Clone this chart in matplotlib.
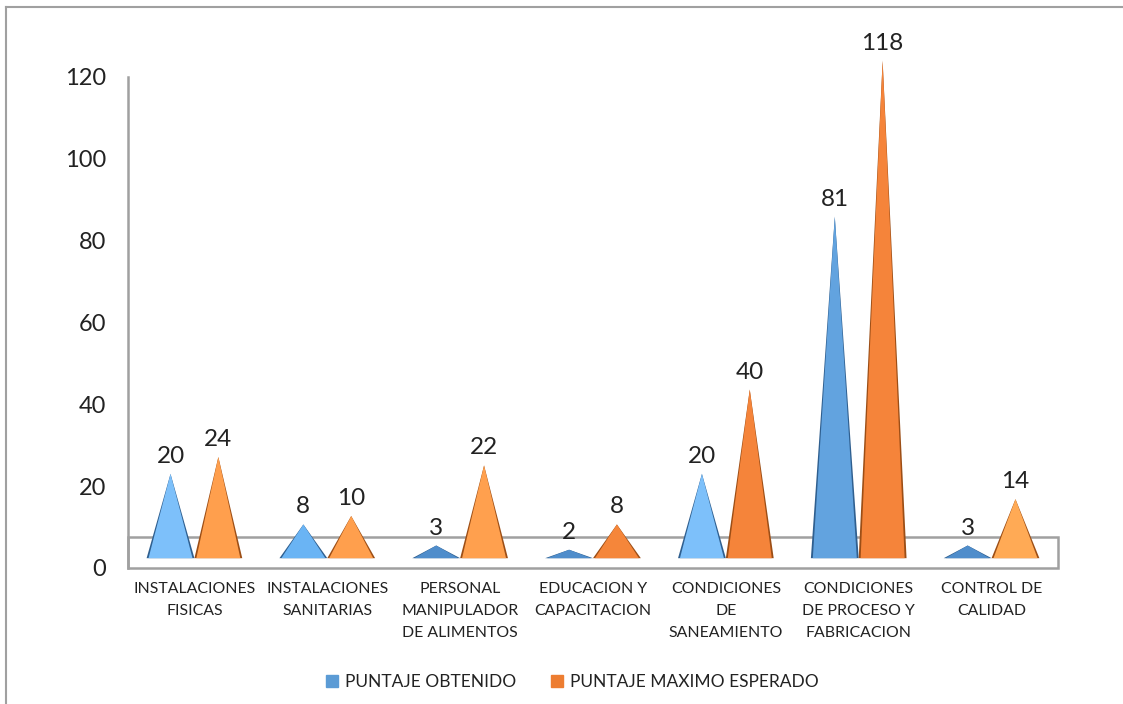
import numpy as np
import matplotlib
matplotlib.use("Agg")
import matplotlib.pyplot as plt
from matplotlib.patches import Polygon, Rectangle
from matplotlib.lines import Line2D

plt.rcParams['font.family'] = ['Lato', 'DejaVu Sans']

# datos
categorias = ["INSTALACIONES\nFISICAS", "INSTALACIONES\nSANITARIAS",
              "PERSONAL\nMANIPULADOR\nDE ALIMENTOS", "EDUCACION Y\nCAPACITACION",
              "CONDICIONES\nDE\nSANEAMIENTO", "CONDICIONES\nDE PROCESO Y\nFABRICACION",
              "CONTROL DE\nCALIDAD"]
obtenido = [20, 8, 3, 2, 20, 81, 3]
maximo = [24, 10, 22, 8, 40, 118, 14]
series = ["PUNTAJE OBTENIDO", "PUNTAJE MAXIMO ESPERADO"]
yticks = [0, 20, 40, 60, 80, 100, 120]

# colores (sombreado tipo 3D de Excel)
azul = '#5B9BD5'
naranja = '#ED7D31'
caras_azul = ['#7DC0FA', '#6AB4F4', '#4F8DCB', '#4F8DCB', '#7DC0FA', '#62A3DF', '#4F8DCB']
caras_naranja = ['#FF9F4D', '#FF9F4D', '#FFA04E', '#F5863A', '#F5843A', '#F5843A', '#FFAA55']
sombra_azul = '#2F5F8F'
sombra_naranja = '#9C4E16'

fig = plt.figure(figsize=(11.23, 7.04), dpi=100)
ax = fig.add_axes([128 / 1123, 136 / 704, 930 / 1123, 532 / 704])
ax.set_xlim(-0.5, len(categorias) - 0.5)
ax.set_ylim(0, 130)

# piso
base = 2.4
ax.add_patch(Rectangle((-0.5, 0), len(categorias), 7.6, facecolor='white',
                       edgecolor='#A0A0A0', lw=1.8, zorder=1, clip_on=False))

ancho = 0.36
esc = 1.03


def piramide(xc, v, cara, sombra):
    top = base + v * esc
    sh = Polygon([(xc - ancho / 2, base), (xc, top), (xc + ancho / 2, base)],
                 closed=True, facecolor=sombra, edgecolor='none', zorder=2)
    ax.add_patch(sh)
    d = ancho * 0.04
    fr = Polygon([(xc - ancho / 2 + d, base), (xc, top), (xc + ancho / 2 - d, base)],
                 closed=True, facecolor=cara, edgecolor='none', zorder=3)
    ax.add_patch(fr)
    ax.annotate(str(v), (xc, top), xytext=(0, 7), textcoords='offset pixels',
                ha='center', va='bottom', fontsize=17.5, color='#222222', zorder=5)


x = np.arange(len(categorias))
for i in range(len(categorias)):
    piramide(x[i] - ancho / 2, obtenido[i], caras_azul[i], sombra_azul)
    piramide(x[i] + ancho / 2, maximo[i], caras_naranja[i], sombra_naranja)

for s in ['top', 'right', 'bottom']:
    ax.spines[s].set_visible(False)
ax.spines['left'].set_bounds(0, 120)
ax.spines['left'].set_color('#A0A0A0')
ax.spines['left'].set_linewidth(1.8)

ax.set_yticks(yticks)
ax.tick_params(axis='y', length=0, pad=16, labelsize=17, labelcolor='#222222')
ax.set_xticks(x)
ax.set_xticklabels(categorias, fontsize=11.4, color='#222222', linespacing=1.72)
ax.tick_params(axis='x', length=0, pad=10)

# leyenda
handles = [Line2D([], [], marker='s', ls='none', color=azul, markersize=8),
           Line2D([], [], marker='s', ls='none', color=naranja, markersize=8)]
fig.legend(handles, series, loc='center', bbox_to_anchor=(0.51, 0.031), ncol=2,
           frameon=False, fontsize=12.5, handlelength=0.7, handletextpad=0.4,
           columnspacing=2.0, labelcolor='#222222')

# borde del grafico
fig.add_artist(Line2D([6 / 1123, 6 / 1123], [0, 1 - 7 / 704], color='#A0A0A0', lw=1.5,
                      transform=fig.transFigure))
fig.add_artist(Line2D([6 / 1123, 1], [1 - 7 / 704, 1 - 7 / 704], color='#A0A0A0', lw=1.5,
                      transform=fig.transFigure))

fig.savefig('out.png', dpi=100)
